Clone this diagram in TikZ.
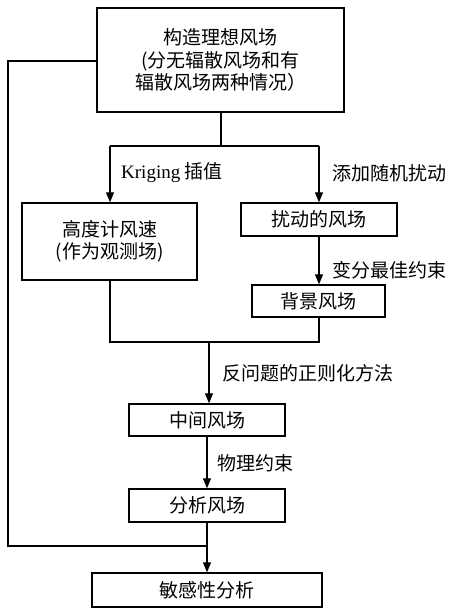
\documentclass[tikz,border=0pt]{standalone}
\usepackage{fontspec}
\setmainfont{Liberation Serif}
\newfontfamily\cjk{Noto Sans CJK SC}
\usetikzlibrary{arrows.meta}
\begin{document}
\begin{tikzpicture}[x=1pt,y=-1pt,
  box/.style={draw,line width=1.4pt,rectangle,inner sep=0pt,align=center,font=\cjk\fontsize{19}{22.5}\selectfont},
  lbl/.style={anchor=west,inner sep=0pt,font=\cjk\fontsize{19}{22.5}\selectfont},
  conn/.style={line width=1.2pt},
  arr/.style={line width=1.2pt,-{Triangle[length=10pt,width=8pt]}}]
\useasboundingbox (0,0) rectangle (448,609);
\node[box,minimum width=247pt,minimum height=104pt] (top) at (220.5,60) {构造理想风场\\(分无辐散风场和有\\辐散风场两种情况）};
\node[box,minimum width=175pt,minimum height=77pt] (obs) at (109.5,241.5) {高度计风速\\(作为观测场)};
\node[box,minimum width=156pt,minimum height=33pt] (pert) at (319,219.5) {扰动的风场};
\node[box,minimum width=133pt,minimum height=32pt] (bg) at (318.5,301) {背景风场};
\node[box,minimum width=156pt,minimum height=32pt] (mid) at (207,420) {中间风场};
\node[box,minimum width=156pt,minimum height=33pt] (ana) at (207,505.5) {分析风场};
\node[box,minimum width=230pt,minimum height=34pt] (sens) at (207,590) {敏感性分析};
% labels
\node[lbl] (lk) at (121,173) {{\rmfamily Kriging} 插值};
\node[lbl] (lr) at (332,173) {添加随机扰动};
\node[lbl] (lv) at (332,270) {变分最佳约束};
\node[lbl] (li) at (222,373) {反问题的正则化方法};
\node[lbl] (lp) at (217,463) {物理约束};
% junctions
\coordinate (j1) at (221,146);
\coordinate (j1l) at (110,146);
\coordinate (j1r) at (319,146);
\coordinate (j2) at (209,342);
\coordinate (j2l) at (110,342);
\coordinate (j2r) at (319,342);
\coordinate (lt) at (8,61);
\coordinate (lb) at (8,546);
\coordinate (j3) at (207,546);
% connectors
\draw[conn] (top.south -| j1) -- (j1);
\draw[conn] (j1l) -- (j1r);
\draw[arr] (j1l) -- (obs.north -| j1l);
\draw[arr] (j1r) -- (pert.north -| j1r);
\draw[arr] (pert.south -| j1r) -- (bg.north -| j1r);
\draw[conn] (obs.south -| j2l) -- (j2l) -- (j2r) -- (bg.south -| j2r);
\draw[arr] (j2) -- (mid.north -| j2);
\draw[arr] (mid.south) -- (ana.north);
\draw[conn] (top.west |- lt) -- (lt) -- (lb) -- (j3);
\draw[arr] (ana.south) -- (sens.north -| ana.south);
\end{tikzpicture}
\end{document}
